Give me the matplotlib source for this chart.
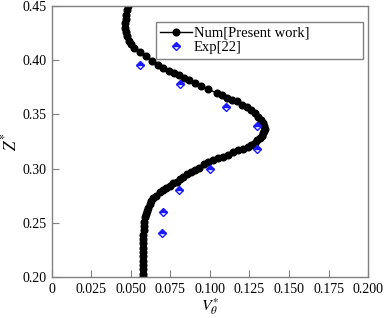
import numpy as np
import matplotlib
matplotlib.use('Agg')
import matplotlib.pyplot as plt

plt.rcParams['font.family'] = ['Liberation Serif', 'DejaVu Serif']
plt.rcParams['mathtext.fontset'] = 'stix'

# numerical profile (V_theta*, Z*)
num_v = [0.0479, 0.0475, 0.0471, 0.0467, 0.0464, 0.0464, 0.0468, 0.0475, 0.0485, 0.0498,
         0.0520, 0.0555, 0.0595, 0.0635, 0.0673, 0.0705, 0.0738, 0.0770, 0.0804, 0.0838,
         0.0870, 0.0905, 0.0945, 0.0989, 0.1042, 0.1075, 0.1105, 0.1137, 0.1169, 0.1200,
         0.1232, 0.1260, 0.1285, 0.1306, 0.1322, 0.1333, 0.1342, 0.1348, 0.1345, 0.1338,
         0.1328, 0.1316, 0.1300, 0.1285, 0.1262, 0.1240, 0.1210, 0.1180, 0.1147, 0.1115,
         0.1084, 0.1050, 0.1021, 0.0990, 0.0960, 0.0930, 0.0905, 0.0878, 0.0852, 0.0830,
         0.0810, 0.0790, 0.0768, 0.0745, 0.0720, 0.0700, 0.0684, 0.0660, 0.0641, 0.0628,
         0.0618, 0.0608, 0.0599, 0.0593, 0.0589, 0.0585, 0.0582, 0.0580, 0.0579, 0.0578,
         0.0578, 0.0578, 0.0578, 0.0578, 0.0578, 0.0578, 0.0578, 0.0578, 0.0578]
num_z = [0.450, 0.446, 0.442, 0.438, 0.434, 0.430, 0.426, 0.422, 0.418, 0.415,
         0.411, 0.408, 0.404, 0.399, 0.396, 0.393, 0.390, 0.388, 0.386, 0.384,
         0.382, 0.379, 0.376, 0.373, 0.370, 0.368, 0.365, 0.363, 0.362, 0.359,
         0.357, 0.354, 0.351, 0.348, 0.345, 0.342, 0.339, 0.337, 0.335, 0.333,
         0.330, 0.328, 0.326, 0.324, 0.322, 0.320, 0.318, 0.317, 0.315, 0.313,
         0.311, 0.310, 0.308, 0.306, 0.304, 0.301, 0.299, 0.297, 0.295, 0.292,
         0.290, 0.288, 0.287, 0.284, 0.282, 0.280, 0.278, 0.275, 0.273, 0.270,
         0.267, 0.264, 0.261, 0.258, 0.255, 0.251, 0.247, 0.243, 0.239, 0.235,
         0.231, 0.227, 0.223, 0.219, 0.215, 0.211, 0.207, 0.203, 0.200]

# experimental points
exp_v = [0.0557, 0.081, 0.110, 0.130, 0.130, 0.100, 0.0806, 0.0703, 0.0696]
exp_z = [0.396, 0.378, 0.357, 0.339, 0.318, 0.300, 0.280, 0.260, 0.241]

xticks = [0, 0.025, 0.05, 0.075, 0.1, 0.125, 0.15, 0.175, 0.2]
xticklabels = ['0', '0.025', '0.050', '0.075', '0.100', '0.125', '0.150', '0.175', '0.200']
yticks = [0.20, 0.25, 0.30, 0.35, 0.40, 0.45]

fig = plt.figure(figsize=(3.87, 3.18), dpi=100)
ax = fig.add_axes([0.134, 0.129, 0.817, 0.852])

ax.plot(num_v, num_z, color='black', lw=1.0, marker='o', ms=4.8,
        label='Num[Present work]', zorder=2)
ax.plot(exp_v, exp_z, ls='none', marker='D', ms=4.5, color='#1a1aff',
        mec='#1a1aff', mew=1.0, fillstyle='top', markerfacecoloralt='white',
        label='Exp[22]', zorder=3)

ax.set_xlim(0, 0.2)
ax.set_ylim(0.2, 0.45)
ax.set_xticks(xticks)
ax.set_xticklabels(xticklabels)
ax.set_yticks(yticks)
ax.set_yticklabels(['%.2f' % v for v in yticks])
ax.tick_params(direction='in', length=5, width=0.8, color='#808080',
               labelsize=10, pad=4, top=False, right=False)
for s in ax.spines.values():
    s.set_color('#808080')
    s.set_linewidth(1.0)

ax.set_xlabel(r'$V_{\theta}^{*}$', fontsize=11.5)
ax.xaxis.set_label_coords(0.5, -0.07)
ax.set_ylabel(r'$Z^{*}$', fontsize=12, labelpad=1)

leg = ax.legend(loc='upper left', bbox_to_anchor=(0.329, 0.804, 0.655, 0.137),
                mode='expand', borderaxespad=0,
                fontsize=10.5, fancybox=False, framealpha=1, edgecolor='#808080',
                handlelength=2.2, handletextpad=0.1, borderpad=0.3, labelspacing=0.1)
leg.get_frame().set_linewidth(1.0)

fig.savefig('out.png', dpi=100)
